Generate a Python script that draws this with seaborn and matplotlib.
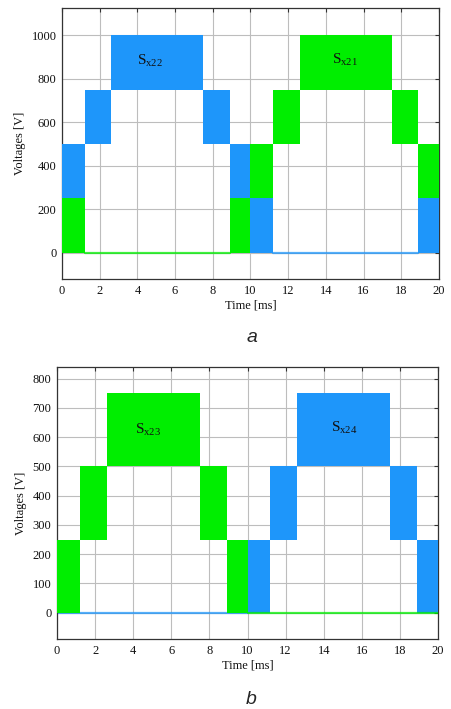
import numpy as np
import pandas as pd
import matplotlib
matplotlib.use("Agg")
import matplotlib.pyplot as plt
import seaborn as sns

# Switching instants of the staircase (ms) and segment bands
t_edges = [0.0, 1.2, 2.6, 7.5, 8.9, 10.0, 11.2, 12.6, 17.5, 18.9, 20.0]
step = 250  # height of each voltage band [V]

# Lower edge of the band conducted by each switch in every segment (nan = off)
nan = np.nan
sx22_low = [250, 500, 750, 500, 250, 0, nan, nan, nan, 0]
sx21_low = [0, nan, nan, nan, 0, 250, 500, 750, 500, 250]
sx23_low = [0, 250, 500, 250, 0, nan, nan, nan, nan, nan]
sx24_low = [nan, nan, nan, nan, nan, 0, 250, 500, 250, 0]

blue = "#1E96FA"
green = "#00EE00"

sns.set_style("whitegrid")
plt.rcParams["font.family"] = ["Liberation Serif", "DejaVu Serif"]
plt.rcParams["mathtext.fontset"] = "custom"
plt.rcParams["mathtext.rm"] = "Liberation Serif"
plt.rcParams["mathtext.it"] = "Liberation Serif:italic"

fig = plt.figure(figsize=(4.52, 7.09), dpi=100)
ax_a = fig.add_axes([62 / 452, 1 - 279 / 709, 377 / 452, 271 / 709])
ax_b = fig.add_axes([57 / 452, 1 - 639 / 709, 381 / 452, 272 / 709])


def draw_switch(ax, lows, color, order):
    # filled bands where the switch is active
    for i, low in enumerate(lows):
        if not np.isnan(low):
            ax.fill_between([t_edges[i], t_edges[i + 1]], low, low + step,
                            color=color, linewidth=0, zorder=order)
    # zero level while the switch is off
    off = [i for i, low in enumerate(lows) if np.isnan(low)]
    runs = []
    for i in off:
        if runs and runs[-1][1] == i:
            runs[-1][1] = i + 1
        else:
            runs.append([i, i + 1])
    for a, b in runs:
        df = pd.DataFrame({"t": [t_edges[a], t_edges[b]], "v": [0, 0]})
        sns.lineplot(data=df, x="t", y="v", ax=ax, color=color,
                     linewidth=1.6, alpha=0.75, zorder=order - 0.5)


def style_axes(ax, yticks, ylim):
    ax.set_xlim(0, 20)
    ax.set_ylim(*ylim)
    ax.set_xticks(range(0, 21, 2))
    ax.set_yticks(yticks)
    ax.grid(True, color="#bdbdbd", linewidth=0.8)
    ax.set_axisbelow(True)
    for s in ax.spines.values():
        s.set_visible(True)
        s.set_color("#333333")
        s.set_linewidth(0.9)
    ax.tick_params(direction="in", length=3, width=0.8, color="#333333",
                   labelsize=9, top=True, right=True, pad=4,
                   labelcolor="#111111")
    ax.set_xlabel("Time [ms]", fontsize=9, labelpad=2, color="#111111")
    ax.set_ylabel("Voltages [V]", fontsize=9, labelpad=4, color="#111111")


def label(ax, x, y, sub):
    ax.text(x, y, r"S$_{\mathrm{" + sub + "}}$", fontsize=11, va="center",
            ha="left", color="#111111", zorder=10)


draw_switch(ax_a, sx21_low, green, 3)
draw_switch(ax_a, sx22_low, blue, 4)
style_axes(ax_a, range(0, 1001, 200), (-120, 1125))
label(ax_a, 4.0, 880, "x22")
label(ax_a, 14.3, 885, "x21")

draw_switch(ax_b, sx24_low, blue, 3)
draw_switch(ax_b, sx23_low, green, 4)
style_axes(ax_b, range(0, 801, 100), (-90, 840))
label(ax_b, 4.1, 625, "x23")
label(ax_b, 14.4, 630, "x24")

fig.text(252 / 452, 1 - 338 / 709, "a", fontsize=14, style="italic",
         family="Liberation Sans", ha="center", va="center")
fig.text(251 / 452, 1 - 699 / 709, "b", fontsize=14, style="italic",
         family="Liberation Sans", ha="center", va="center")

fig.savefig("out.png", dpi=100, facecolor="white")
